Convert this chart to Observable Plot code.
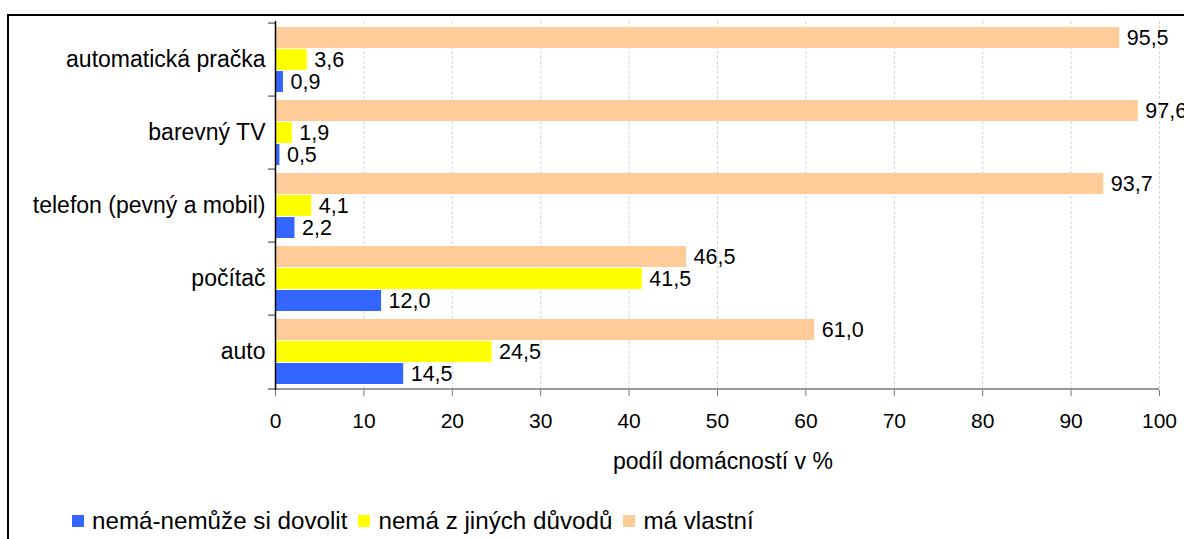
<!DOCTYPE html>
<html>
<head>
<meta charset="utf-8">
<script src="https://cdn.jsdelivr.net/npm/d3@7"></script>
<script src="https://cdn.jsdelivr.net/npm/@observablehq/plot@0.6"></script>
<style>
  html, body { margin: 0; padding: 0; background: #fff; overflow: hidden; width: 1184px; height: 539px; }
  body { position: relative; font-family: "Liberation Sans", Arial, sans-serif; color: #000; }
  #box { position: absolute; left: 7px; top: 14px; width: 2000px; height: 2000px; border: 2px solid #000; box-sizing: border-box; }
  #chart { position: absolute; left: 0; top: 0; }
  #xtitle { position: absolute; left: 613px; top: 448px; font-size: 23px; white-space: nowrap; }
  #legend { position: absolute; left: 72px; top: 507px; display: flex; align-items: center; font-size: 24.2px; white-space: nowrap; }
  .sw { width: 12px; height: 12px; display: inline-block; margin-right: 8px; }
  .item { display: flex; align-items: center; margin-right: 11px; }
</style>
</head>
<body>
<div id="box"></div>
<div id="chart"></div>
<div id="xtitle">podíl domácností v %</div>
<div id="legend"></div>
<script>
const categories = ["automatická pračka", "barevný TV", "telefon (pevný a mobil)", "počítač", "auto"];
const seriesNames = ["nemá-nemůže si dovolit", "nemá z jiných důvodů", "má vlastní"];
const seriesColors = ["#3366FF", "#FFFF00", "#FFCC99"];
const nemaNemuze = [0.9, 0.5, 2.2, 12.0, 14.5];
const nemaJine = [3.6, 1.9, 4.1, 41.5, 24.5];
const maVlastni = [95.5, 97.6, 93.7, 46.5, 61.0];
const xTicks = [0, 10, 20, 30, 40, 50, 60, 70, 80, 90, 100];

const seriesValues = [nemaNemuze, nemaJine, maVlastni];
const rows = [];
seriesValues.forEach((vals, s) => vals.forEach((v, i) => rows.push({category: categories[i], series: seriesNames[s], value: v})));
const bySeries = s => rows.filter(d => d.series === seriesNames[s]);
const fmt = d => d3.format(".1f")(d.value).replace(".", ",");

// layout within each category band (band = 73.8px)
const slots = [ // blue bottom, yellow middle, orange top
  {insetTop: 48, insetBottom: 4, dy: 22},
  {insetTop: 26, insetBottom: 26, dy: 0},
  {insetTop: 4, insetBottom: 48, dy: -22}
];

const marks = [
  Plot.ruleX(xTicks.slice(1), {stroke: "#d4d4d4", strokeDasharray: "3,2", strokeWidth: 1})
];
[2, 1, 0].forEach(s => {
  marks.push(Plot.barX(bySeries(s), {x: "value", y: "category", fill: seriesColors[s], insetTop: slots[s].insetTop, insetBottom: slots[s].insetBottom}));
  marks.push(Plot.text(bySeries(s), {x: "value", y: "category", text: fmt, dx: 7, dy: slots[s].dy, textAnchor: "start", fontSize: 21.5, fill: "#000"}));
});
marks.push(
  Plot.ruleY(categories, {y: d => d, x1: -0.8, x2: 0, dy: -36.9, stroke: "#777", strokeWidth: 1.5}),
  Plot.ruleY(categories.slice(-1), {y: d => d, x1: -0.8, x2: 100, dy: 36.9, stroke: "#777", strokeWidth: 1.5}),
  Plot.ruleX([0], {stroke: "#000", strokeWidth: 1.5}),
  Plot.axisX({ticks: xTicks, tickSize: 6, tickPadding: 17, tickFormat: d => String(d), stroke: "#777", fontSize: 21, label: null}),
  Plot.axisY({tickSize: 0, tickPadding: 10, fontSize: 23, label: null})
);

const chart = Plot.plot({
  width: 1184,
  height: 490,
  marginLeft: 275,
  marginRight: 25,
  marginTop: 21,
  marginBottom: 100,
  style: {fontFamily: '"Liberation Sans", Arial, sans-serif', color: "#000", background: "transparent", overflow: "visible"},
  x: {domain: [0, 100]},
  y: {domain: categories, padding: 0},
  marks
});
document.getElementById("chart").appendChild(chart);

const legend = document.getElementById("legend");
seriesNames.forEach((name, i) => {
  const item = document.createElement("div");
  item.className = "item";
  const sw = document.createElement("span");
  sw.className = "sw";
  sw.style.background = seriesColors[i];
  item.appendChild(sw);
  item.appendChild(document.createTextNode(name));
  legend.appendChild(item);
});
</script>
</body>
</html>
